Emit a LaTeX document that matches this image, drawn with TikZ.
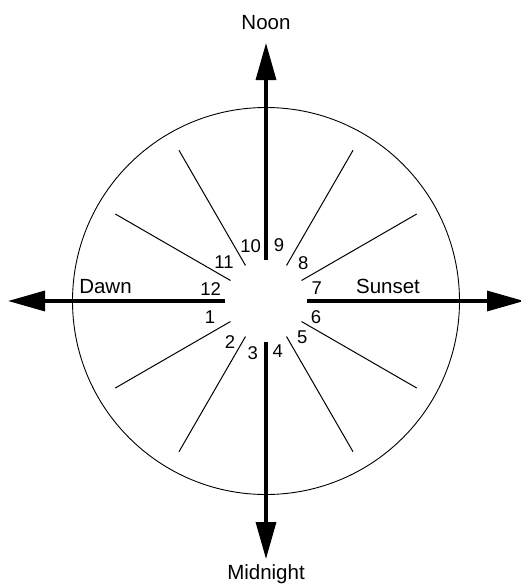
\documentclass[tikz,border=0pt]{standalone}
\usepackage{fontspec}
\setmainfont{Liberation Sans}
\usetikzlibrary{arrows.meta}
\begin{document}
\begin{tikzpicture}[x=1pt,y=-1pt,
  axisline/.style={line width=3.4pt,-{Triangle[length=37pt,width=20pt]}},
  spoke/.style={line width=1.0pt},
  rim/.style={line width=0.9pt},
  dirlabel/.style={font=\fontsize{20.5}{24}\selectfont,anchor=base,inner sep=0pt},
  numlabel/.style={font=\fontsize{18.5}{22}\selectfont,inner sep=0pt}]
\useasboundingbox (0,0) rectangle (521,587);
\coordinate (C) at (266,301);
\draw[rim] (C) circle[radius=193.5];
% axis arrows
\foreach \a/\n in {90/N,270/M,180/W,0/E}{
  \coordinate (\n i) at ([shift={(\a:41 and -41)}]C);
  \coordinate (\n o) at ([shift={(\a:258 and -258)}]C);
  \draw[axisline] (\n i) -- (\n o);
}
% thin spokes
\foreach \a in {30,60,120,150,210,240,300,330}{
  \coordinate (s\a i) at ([shift={(\a:41 and -41)}]C);
  \coordinate (s\a o) at ([shift={(\a:174 and -174)}]C);
  \draw[spoke] (s\a i) -- (s\a o);
}
% direction labels
\node[dirlabel] (noon) at (266,29.3) {Noon};
\node[dirlabel] (midnight) at (266,579) {Midnight};
\node[dirlabel] (dawn) at (105.5,293.3) {Dawn};
\node[dirlabel] (sunset) at (388,293) {Sunset};
% numbers
\node[numlabel] (n10) at (250.7,246) {10};
\node[numlabel] (n9) at (279,245) {9};
\node[numlabel] (n11) at (224,262) {11};
\node[numlabel] (n8) at (303.3,263.3) {8};
\node[numlabel] (n12) at (210.7,289.3) {12};
\node[numlabel] (n7) at (316.7,288.3) {7};
\node[numlabel] (n1) at (210,316.7) {1};
\node[numlabel] (n6) at (316,316.7) {6};
\node[numlabel] (n2) at (230,341.7) {2};
\node[numlabel] (n5) at (302.3,337.3) {5};
\node[numlabel] (n3) at (252.7,352.7) {3};
\node[numlabel] (n4) at (277.7,350.7) {4};
\end{tikzpicture}
\end{document}
